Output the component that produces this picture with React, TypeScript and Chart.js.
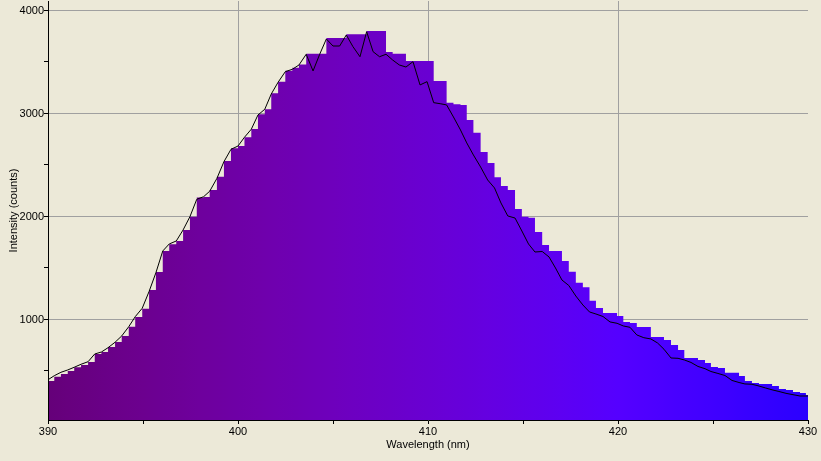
import React, { useEffect, useRef } from 'react';
import { Chart, registerables } from 'chart.js';

Chart.register(...registerables);

// Bin edges (nm) shared by the step spectrum and the black trace
const wavelengths = [
  389.96, 390.33, 390.68, 391.04, 391.38, 391.74, 392.11, 392.46, 392.81, 393.16,
  393.53, 393.88, 394.25, 394.59, 394.96, 395.32, 395.68, 396.04, 396.38, 396.75,
  397.11, 397.47, 397.83, 398.19, 398.51, 398.89, 399.26, 399.63, 400.0, 400.34,
  400.7, 401.05, 401.41, 401.75, 402.11, 402.49, 402.86, 403.21, 403.59, 403.95,
  404.3, 404.65, 405.0, 405.35, 405.7, 406.05, 406.42, 406.77, 407.11, 407.45,
  407.79, 408.14, 408.49, 408.84, 409.21, 409.58, 409.95, 410.3, 410.64, 410.98,
  411.34, 411.71, 412.04, 412.39, 412.77, 413.14, 413.5, 413.84, 414.2, 414.58,
  414.94, 415.29, 415.63, 416.01, 416.37, 416.71, 417.05, 417.41, 417.78, 418.15,
  418.5, 418.84, 419.21, 419.58, 419.95, 420.28, 420.63, 420.99, 421.36, 421.73,
  422.08, 422.42, 422.79, 423.16, 423.49, 423.84, 424.21, 424.58, 424.89, 425.26,
  425.63, 426.0, 426.37, 426.68, 427.05, 427.42, 427.76, 428.11, 428.47, 428.84,
  429.21, 429.58, 429.89, 430.25,
];

// Step (bar) intensities, counts
const barCounts = [
  403, 445, 471, 500, 536, 558, 587, 665, 684, 733,
  781, 840, 930, 1024, 1105, 1286, 1461, 1665, 1730, 1762,
  1869, 1998, 2185, 2190, 2257, 2386, 2539, 2662, 2684, 2769,
  2850, 2992, 3041, 3196, 3309, 3415, 3443, 3475, 3580, 3580,
  3580, 3733, 3733, 3733, 3770, 3770, 3770, 3801, 3801, 3801,
  3597, 3580, 3580, 3510, 3510, 3510, 3510, 3316, 3316, 3103,
  3090, 3083, 2937, 2812, 2627, 2519, 2380, 2296, 2257, 2073,
  1998, 1987, 1850, 1723, 1665, 1665, 1568, 1463, 1356, 1314,
  1182, 1112, 1063, 1063, 1034, 976, 966, 927, 927, 830,
  830, 801, 752, 704, 626, 626, 607, 578, 539, 529,
  483, 483, 451, 403, 383, 374, 374, 354, 325, 316,
  296, 286, 267, 267,
];

// Black trace intensities, counts
const lineCounts = [
  410, 454, 487, 510, 536, 565, 590, 665, 684, 726,
  779, 840, 930, 1027, 1109, 1272, 1454, 1665, 1733, 1762,
  1869, 1998, 2167, 2192, 2245, 2370, 2532, 2652, 2684, 2769,
  2847, 2985, 3041, 3189, 3303, 3406, 3429, 3471, 3575, 3413,
  3575, 3723, 3655, 3655, 3762, 3649, 3551, 3794, 3600, 3551,
  3575, 3519, 3471, 3451, 3503, 3277, 3309, 3105, 3095, 3083,
  2966, 2840, 2714, 2597, 2480, 2354, 2277, 2131, 2005, 1985,
  1859, 1733, 1655, 1660, 1607, 1500, 1383, 1330, 1228, 1141,
  1073, 1053, 1029, 976, 963, 937, 924, 850, 823, 811,
  772, 711, 626, 623, 607, 583, 544, 522, 495, 476,
  456, 408, 388, 374, 371, 354, 335, 317, 301, 283,
  270, 257, 257, 257,
];

const xMajorTicks = [390, 400, 410, 420, 430];
const xMinorTicks = [395, 405, 415, 425];
const xGridTicks = [400, 410, 420];
const yMajorTicks = [1000, 2000, 3000, 4000];
const yMinorTicks = [500, 1500, 2500, 3500];

const X_MIN = 390;
const X_MAX = 430;
const Y_MIN = 24;
const Y_MAX = 4092;

const FONT = { family: "'Liberation Sans', Arial, sans-serif", size: 11 };
const GRID = '#a0a0a0';
const BG = '#ece9d8';

function spectrumColor(nm: number): string {
  const r = Math.max(0, (440 - nm) / 60);
  const b = 1;
  const f = nm < 420 ? 0.3 + (0.7 * (nm - 380)) / 40 : 1;
  return `rgb(${Math.round(255 * r * f)},0,${Math.round(255 * b * f)})`;
}

function spectrumGradient(context: any) {
  const chart = context.chart;
  const { ctx, chartArea, scales } = chart;
  if (!chartArea) return 'rgba(0,0,0,0)';
  const xs = scales.x;
  const x0 = xs.getPixelForValue(X_MIN);
  const x1 = xs.getPixelForValue(X_MAX);
  const g = ctx.createLinearGradient(x0, 0, x1, 0);
  for (let nm = X_MIN; nm <= X_MAX; nm += 1) {
    g.addColorStop((nm - X_MIN) / (X_MAX - X_MIN), spectrumColor(nm));
  }
  return g;
}

export default function App() {
  const ref = useRef<HTMLCanvasElement>(null);

  useEffect(() => {
    const canvas = ref.current;
    if (!canvas) return;
    const barData = wavelengths.map((w, i) => ({ x: w, y: barCounts[i] }));
    const lineData = wavelengths.map((w, i) => ({ x: w, y: lineCounts[i] }));

    const chart = new Chart(canvas, {
      type: 'line',
      data: {
        datasets: [
          {
            label: 'trace',
            data: lineData,
            borderColor: '#000000',
            borderWidth: 1,
            pointRadius: 0,
            tension: 0,
            fill: false,
            order: 0,
          },
          {
            label: 'spectrum',
            data: barData,
            stepped: 'before',
            borderColor: 'rgba(0,0,0,0)',
            borderWidth: 0,
            pointRadius: 0,
            fill: 'start',
            backgroundColor: spectrumGradient,
            order: 1,
          },
        ],
      },
      options: {
        responsive: false,
        animation: false,
        devicePixelRatio: 1,
        events: [],
        layout: { padding: { left: 0, right: 13, top: 1, bottom: 0 } },
        plugins: {
          legend: { display: false },
          tooltip: { enabled: false },
          title: { display: false },
        },
        scales: {
          x: {
            type: 'linear',
            position: 'bottom',
            min: X_MIN,
            max: X_MAX,
            afterBuildTicks: (scale: any) => {
              scale.ticks = [...xMajorTicks, ...xMinorTicks]
                .sort((a, b) => a - b)
                .map((v) => ({ value: v }));
            },
            afterFit: (scale: any) => {
              scale.height = 41;
              scale.paddingLeft = 0;
              scale.paddingRight = 0;
              scale.paddingTop = 0;
              scale.paddingBottom = 0;
            },
            ticks: {
              autoSkip: false,
              maxRotation: 0,
              minRotation: 0,
              padding: 1,
              color: '#000',
              font: FONT,
              callback: (v: any) => (xMajorTicks.includes(Number(v)) ? String(v) : ''),
            },
            grid: {
              color: (c: any) => (xGridTicks.includes(c.tick?.value) ? GRID : 'rgba(0,0,0,0)'),
              lineWidth: 1,
              drawTicks: true,
              tickLength: 4,
              tickWidth: 1,
              tickColor: '#000',
            },
            border: { display: true, color: '#000', width: 1, z: 1 },
            title: {
              display: true,
              text: 'Wavelength (nm)',
              color: '#000',
              font: FONT,
              padding: { top: 0, bottom: 9 },
            },
          },
          y: {
            type: 'linear',
            position: 'left',
            min: Y_MIN,
            max: Y_MAX,
            afterBuildTicks: (scale: any) => {
              scale.ticks = [...yMinorTicks, ...yMajorTicks]
                .sort((a, b) => a - b)
                .map((v) => ({ value: v }));
            },
            afterFit: (scale: any) => {
              scale.width = 48;
              scale.paddingLeft = 0;
              scale.paddingRight = 0;
              scale.paddingTop = 0;
              scale.paddingBottom = 0;
            },
            ticks: {
              autoSkip: false,
              padding: 0,
              color: '#000',
              font: FONT,
              callback: (v: any) => (yMajorTicks.includes(Number(v)) ? String(v) : ''),
            },
            grid: {
              color: (c: any) => (yMajorTicks.includes(c.tick?.value) ? GRID : 'rgba(0,0,0,0)'),
              lineWidth: 1,
              drawTicks: true,
              tickLength: 4,
              tickWidth: 1,
              tickColor: '#000',
            },
            border: { display: true, color: '#000', width: 1, z: 1 },
            title: {
              display: true,
              text: 'Intensity (counts)',
              color: '#000',
              font: FONT,
              padding: { top: 7, bottom: 0 },
            },
          },
        },
      },
    } as any);

    return () => chart.destroy();
  }, []);

  return (
    <div
      style={{
        position: 'absolute',
        left: 0,
        top: 0,
        width: 821,
        height: 461,
        background: BG,
        overflow: 'hidden',
      }}
    >
      <canvas ref={ref} width={821} height={461} style={{ display: 'block', width: 821, height: 461 }} />
    </div>
  );
}
